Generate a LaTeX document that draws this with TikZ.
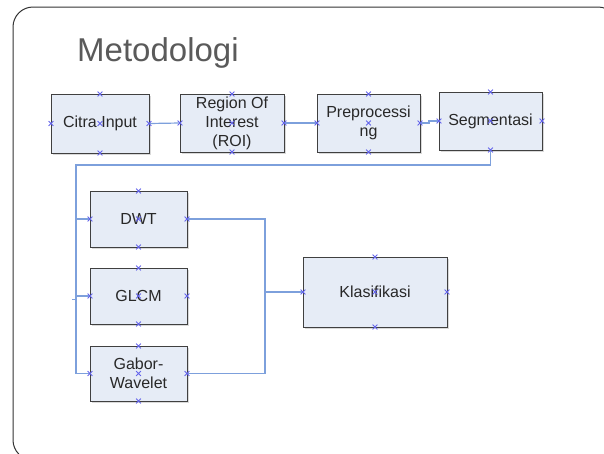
\documentclass[tikz,border=0pt]{standalone}
\usepackage{fontspec}
\setmainfont{Liberation Sans}
\usetikzlibrary{shapes.misc}
\definecolor{boxfill}{RGB}{230,236,246}
\definecolor{boxline}{RGB}{64,64,64}
\definecolor{conn}{RGB}{125,160,220}
\definecolor{mark}{RGB}{100,100,235}
\definecolor{titlegray}{RGB}{90,90,90}
\definecolor{txt}{RGB}{40,40,40}
\tikzset{
  blk/.style={draw=boxline, fill=boxfill, line width=1pt, inner sep=1pt, outer sep=0pt, align=center,
    font=\fontsize{16}{19}\selectfont, text=txt},
  shd/.style={fill=black!15},
  wire/.style={draw=conn, line width=1.2pt},
  mk/.style={cross out, draw=mark, line width=0.8pt, inner sep=0pt, minimum size=4pt},
}
\begin{document}
\begin{tikzpicture}[x=1pt,y=-1pt]
\useasboundingbox (0,0) rectangle (604,453);
\begin{scope}
\clip (0,0) rectangle (604,453);
\draw[draw=black!80, line width=1pt, rounded corners=20pt] (13,7) rectangle (618,460);
\end{scope}
\node[font=\fontsize{33}{36}\selectfont, text=titlegray, anchor=base west, inner sep=0pt] (title) at (77,61) {Metodologi};

% shadows
\foreach \cx/\cy/\w/\h in {100/123.5/98/59, 232/123/104/58, 368.5/123/103/58, 490.5/121/103/58,
  138.5/219/97/56, 138.5/296/97/56, 138.5/373.5/97/55, 375/292/144/70}
  \fill[shd] (\cx-\w/2+1.5,\cy-\h/2+1.5) rectangle (\cx+\w/2+1.5,\cy+\h/2+1.5);

\node[blk, minimum width=98pt, minimum height=59pt] (citra) at (100,123.5) {Citra Input};
\node[blk, minimum width=104pt, minimum height=58pt] (roi) at (232,123) {Region Of\\Interest\\(ROI)};
\node[blk, minimum width=103pt, minimum height=58pt] (pre) at (368.5,123) {Preprocessi\\ng};
\node[blk, minimum width=103pt, minimum height=58pt] (seg) at (490.5,121) {Segmentasi};
\node[blk, minimum width=97pt, minimum height=56pt] (dwt) at (138.5,219) {DWT};
\node[blk, minimum width=97pt, minimum height=56pt] (glcm) at (138.5,296) {GLCM};
\node[blk, minimum width=97pt, minimum height=55pt] (gabor) at (138.5,373.5) {Gabor-\\Wavelet};
\node[blk, minimum width=144pt, minimum height=70pt] (klas) at (375,292) {Klasifikasi};

\coordinate (lb) at (76,165);
\coordinate (rb) at (265,219);
\coordinate (stub) at (72,299);

\draw[wire] (citra.east) -- (roi.west);
\draw[wire] (roi.east) -- (pre.west);
\draw[wire] (pre.east) -- ++(9,0) |- (seg.west);
\draw[wire] (seg.south) |- (lb) -- (lb |- gabor.west) -- (gabor.west);
\draw[wire] (lb |- dwt.west) -- (dwt.west);
\draw[wire] (lb |- glcm.west) -- (glcm.west);
\draw[wire, line width=0.8pt] (stub) -- (stub -| lb);
\draw[wire] (dwt.east) -- (dwt.east -| rb) -- (gabor.east -| rb) -- (gabor.east);
\draw[wire] (klas.west) -- (klas.west -| rb);

\foreach \n in {citra,roi,pre,seg,dwt,glcm,gabor,klas}
  \foreach \a in {north,south,east,west,center}
    \node[mk] at (\n.\a) {};
\end{tikzpicture}
\end{document}
